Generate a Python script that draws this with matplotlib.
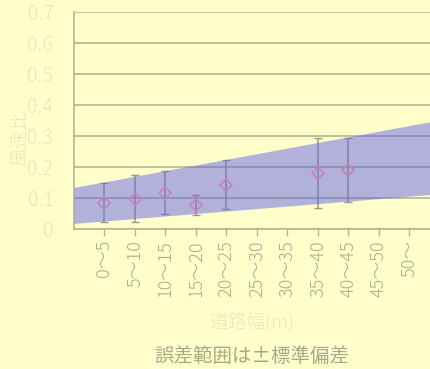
import matplotlib
matplotlib.use("Agg")
import matplotlib.pyplot as plt
import numpy as np

plt.rcParams['font.family'] = ['Noto Sans CJK JP', 'DejaVu Sans']

categories = ["0～5", "5～10", "10～15", "15～20", "20～25", "25～30",
              "30～35", "35～40", "40～45", "45～50", "50～"]
point_cats = ["0～5", "5～10", "10～15", "15～20", "20～25", "35～40", "40～45"]
means = [0.085, 0.098, 0.117, 0.078, 0.142, 0.181, 0.190]
stds = [0.063, 0.077, 0.070, 0.033, 0.079, 0.112, 0.104]
band_x = [0, 12]
band_upper = [0.134, 0.352]
band_lower = [0.018, 0.114]
yticks = [0, 0.1, 0.2, 0.3, 0.4, 0.5, 0.6, 0.7]
ytick_labels = ["0", "0.1", "0.2", "0.3", "0.4", "0.5", "0.6", "0.7"]

bg = "#FFFFCC"
fig = plt.figure(figsize=(4.31, 3.69), dpi=100, facecolor=bg)
ax = fig.add_axes([74/431, 1-229/369, 366/431, 217/369])
ax.set_facecolor(bg)

xpos = {c: i + 1 for i, c in enumerate(categories)}
px = [xpos[c] for c in point_cats]

ax.set_xlim(0, 12)
ax.set_ylim(0, 0.7)

for y in yticks:
    ax.axhline(y, color="#B4B494", lw=1.2, zorder=1)

ax.errorbar(px, means, yerr=stds, fmt="none", ecolor="#9A9A84", elinewidth=1.1,
            capsize=3, capthick=1.0, zorder=2)

ax.fill_between(band_x, band_lower, band_upper, color="#6464E6", alpha=0.5,
                lw=0, zorder=3)

ax.plot(px, means, linestyle="none", marker="D", markersize=6.5,
        markerfacecolor="none", markeredgecolor="#CC80B8", markeredgewidth=1.2,
        zorder=4)

for s in ["top", "right"]:
    ax.spines[s].set_visible(False)
for s in ["left", "bottom"]:
    ax.spines[s].set_color("#B4B494")
    ax.spines[s].set_linewidth(1.2)

ax.set_yticks(yticks)
ax.set_yticklabels(ytick_labels, color="#E6E6BE", fontsize=14, fontweight="light")
ax.tick_params(axis="y", length=0, pad=15)

ax.set_xticks(list(xpos.values()))
ax.set_xticklabels(categories, rotation=90, color="#AAAA8C", fontsize=13,
                   fontweight="light")
ax.tick_params(axis="x", length=5, color="#B4B494", width=1, pad=3)

fig.text(20/431, 1-138/369, "風速比", rotation=90, color="#E6E6BE",
         fontsize=13.5, ha="center", va="center", fontweight="light")
fig.text(252/431, 1-322/369, "道路幅(m)", color="#E6E6BE", fontsize=13.5,
         ha="center", va="center", fontweight="light")
fig.text(252/431, 1-356/369, "誤差範囲は±標準偏差", color="#A8A88A", fontsize=14,
         ha="center", va="center")

fig.savefig("out.png", dpi=100, facecolor=bg)
